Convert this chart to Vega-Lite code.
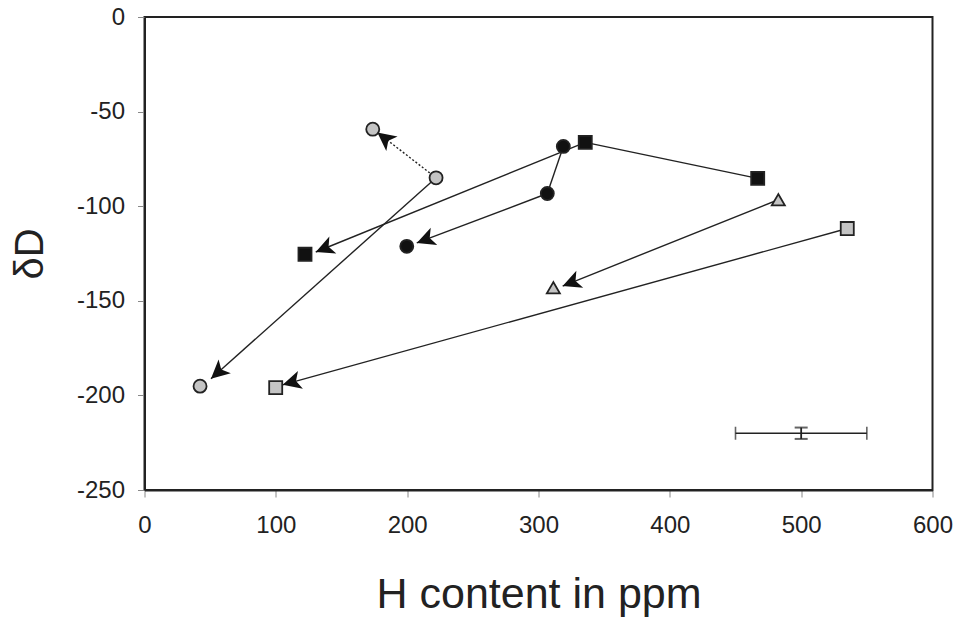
{
  "$schema": "https://vega.github.io/schema/vega-lite/v6.json",
  "width": 788,
  "height": 473,
  "autosize": "none",
  "padding": {"left": 144.5, "top": 17, "right": 25.5, "bottom": 127},
  "background": "white",
  "config": {
    "view": {"stroke": "#222", "strokeWidth": 2},
    "font": "Liberation Sans"
  },
  "datasets": {
    "markers": [
      {"h": 173.8, "dD": -59.3, "sym": "circle", "tone": "gray"},
      {"h": 222.0, "dD": -85.0, "sym": "circle", "tone": "gray"},
      {"h": 42.3, "dD": -195.1, "sym": "circle", "tone": "gray"},
      {"h": 122.2, "dD": -125.4, "sym": "square", "tone": "black"},
      {"h": 335.6, "dD": -66.3, "sym": "square", "tone": "black"},
      {"h": 466.9, "dD": -85.3, "sym": "square", "tone": "black"},
      {"h": 318.9, "dD": -68.4, "sym": "circle", "tone": "black"},
      {"h": 306.7, "dD": -93.3, "sym": "circle", "tone": "black"},
      {"h": 199.7, "dD": -121.2, "sym": "circle", "tone": "black"},
      {"h": 482.6, "dD": -96.6, "sym": "triangle", "tone": "gray"},
      {"h": 311.3, "dD": -143.1, "sym": "triangle", "tone": "gray"},
      {"h": 535.1, "dD": -111.8, "sym": "square", "tone": "gray"},
      {"h": 99.9, "dD": -195.9, "sym": "square", "tone": "gray"}
    ],
    "segments": [
      {"h": 222.0, "dD": -85.0, "h2": 50.6, "dD2": -191.2, "dash": "solid", "head": "yes"},
      {"h": 222.0, "dD": -85.0, "h2": 177.3, "dD2": -61.0, "dash": "dotted", "head": "yes"},
      {"h": 466.9, "dD": -85.3, "h2": 335.6, "dD2": -66.3, "dash": "solid", "head": "no"},
      {"h": 335.6, "dD": -66.3, "h2": 130.4, "dD2": -124.2, "dash": "solid", "head": "yes"},
      {"h": 318.9, "dD": -68.4, "h2": 306.7, "dD2": -93.3, "dash": "solid", "head": "no"},
      {"h": 306.7, "dD": -93.3, "h2": 207.3, "dD2": -119.4, "dash": "solid", "head": "yes"},
      {"h": 482.6, "dD": -96.6, "h2": 318.4, "dD2": -142.2, "dash": "solid", "head": "yes"},
      {"h": 535.1, "dD": -111.8, "h2": 105.2, "dD2": -194.4, "dash": "solid", "head": "yes"}
    ],
    "errbar": [
      {"h": 500, "dD": -220, "hlo": 450, "hhi": 550, "dlo": -223, "dhi": -217}
    ]
  },
  "encoding": {
    "x": {
      "field": "h", "type": "quantitative",
      "scale": {"domain": [0, 600], "nice": false, "zero": false},
      "axis": {
        "title": "H content in ppm",
        "values": [0, 100, 200, 300, 400, 500, 600],
        "labelExpr": "toString(datum.value)",
        "labelFlush": false,
        "labelOverlap": false,
        "grid": false,
        "domainColor": "#222", "domainWidth": 2,
        "tickColor": "#888", "tickSize": 7, "tickWidth": 1,
        "labelFontSize": 24, "labelColor": "#222", "labelPadding": 16,
        "labelFont": "Liberation Sans",
        "titleFontSize": 43, "titleFontWeight": "normal", "titleColor": "#222",
        "titleFont": "Liberation Sans",
        "titleBaseline": "alphabetic", "titleY": 117
      }
    },
    "y": {
      "field": "dD", "type": "quantitative",
      "scale": {"domain": [-250, 0], "nice": false, "zero": false},
      "axis": {
        "title": "δD",
        "values": [-250, -200, -150, -100, -50, 0],
        "labelExpr": "toString(datum.value)",
        "labelFlush": false,
        "labelOverlap": false,
        "grid": false,
        "domainColor": "#222", "domainWidth": 2,
        "tickColor": "#888", "tickSize": 7, "tickWidth": 1,
        "labelFontSize": 24, "labelColor": "#222", "labelPadding": 13,
        "labelFont": "Liberation Sans",
        "titleFontSize": 40, "titleFontWeight": "normal", "titleColor": "#222",
        "titleFont": "Liberation Sans",
        "titleBaseline": "alphabetic", "titleX": -102, "titleAngle": -90
      }
    }
  },
  "layer": [
    {
      "data": {"name": "segments"},
      "transform": [{"filter": "datum.dash === 'solid'"}],
      "mark": {"type": "rule", "color": "#222", "strokeWidth": 1.4},
      "encoding": {
        "x2": {"field": "h2"},
        "y2": {"field": "dD2"}
      }
    },
    {
      "data": {"name": "segments"},
      "transform": [{"filter": "datum.dash === 'dotted'"}],
      "mark": {"type": "rule", "color": "#222", "strokeWidth": 1.4, "strokeDash": [2, 2]},
      "encoding": {
        "x2": {"field": "h2"},
        "y2": {"field": "dD2"}
      }
    },
    {
      "data": {"name": "segments"},
      "transform": [
        {"filter": "datum.head === 'yes'"},
        {"calculate": "atan2((datum.h2 - datum.h) * 788 / 600, (datum.dD2 - datum.dD) * 473 / 250) * 180 / PI", "as": "ang"}
      ],
      "mark": {
        "type": "point",
        "shape": "M0,0 L1,2 L0,1.5 L-1,2 Z",
        "filled": true,
        "color": "#111",
        "opacity": 1,
        "size": 340,
        "strokeWidth": 0
      },
      "encoding": {
        "x": {"field": "h2", "type": "quantitative"},
        "y": {"field": "dD2", "type": "quantitative"},
        "angle": {"field": "ang", "type": "quantitative", "scale": null}
      }
    },
    {
      "data": {"name": "markers"},
      "mark": {"type": "point", "filled": true, "opacity": 1, "size": 170, "stroke": "#222", "strokeWidth": 1.8},
      "encoding": {
        "shape": {
          "field": "sym", "type": "nominal",
          "scale": {"domain": ["circle", "square", "triangle"], "range": ["circle", "square", "triangle-up"]},
          "legend": null
        },
        "fill": {
          "field": "tone", "type": "nominal",
          "scale": {"domain": ["gray", "black"], "range": ["#c4c4c4", "#111111"]},
          "legend": null
        }
      }
    },
    {
      "data": {"name": "errbar"},
      "mark": {"type": "rule", "color": "#222", "strokeWidth": 1.6},
      "encoding": {
        "x": {"field": "hlo", "type": "quantitative"},
        "x2": {"field": "hhi"}
      }
    },
    {
      "data": {"name": "errbar"},
      "mark": {"type": "rule", "color": "#222", "strokeWidth": 1.8},
      "encoding": {
        "y": {"field": "dlo", "type": "quantitative"},
        "y2": {"field": "dhi"}
      }
    },
    {
      "data": {"name": "errbar"},
      "mark": {"type": "tick", "orient": "vertical", "color": "#222", "thickness": 1.6, "size": 13},
      "encoding": {"x": {"field": "hlo", "type": "quantitative"}}
    },
    {
      "data": {"name": "errbar"},
      "mark": {"type": "tick", "orient": "vertical", "color": "#222", "thickness": 1.6, "size": 13},
      "encoding": {"x": {"field": "hhi", "type": "quantitative"}}
    },
    {
      "data": {"name": "errbar"},
      "mark": {"type": "tick", "orient": "horizontal", "color": "#222", "thickness": 2, "size": 13},
      "encoding": {"y": {"field": "dlo", "type": "quantitative"}}
    },
    {
      "data": {"name": "errbar"},
      "mark": {"type": "tick", "orient": "horizontal", "color": "#222", "thickness": 2, "size": 13},
      "encoding": {"y": {"field": "dhi", "type": "quantitative"}}
    }
  ]
}
